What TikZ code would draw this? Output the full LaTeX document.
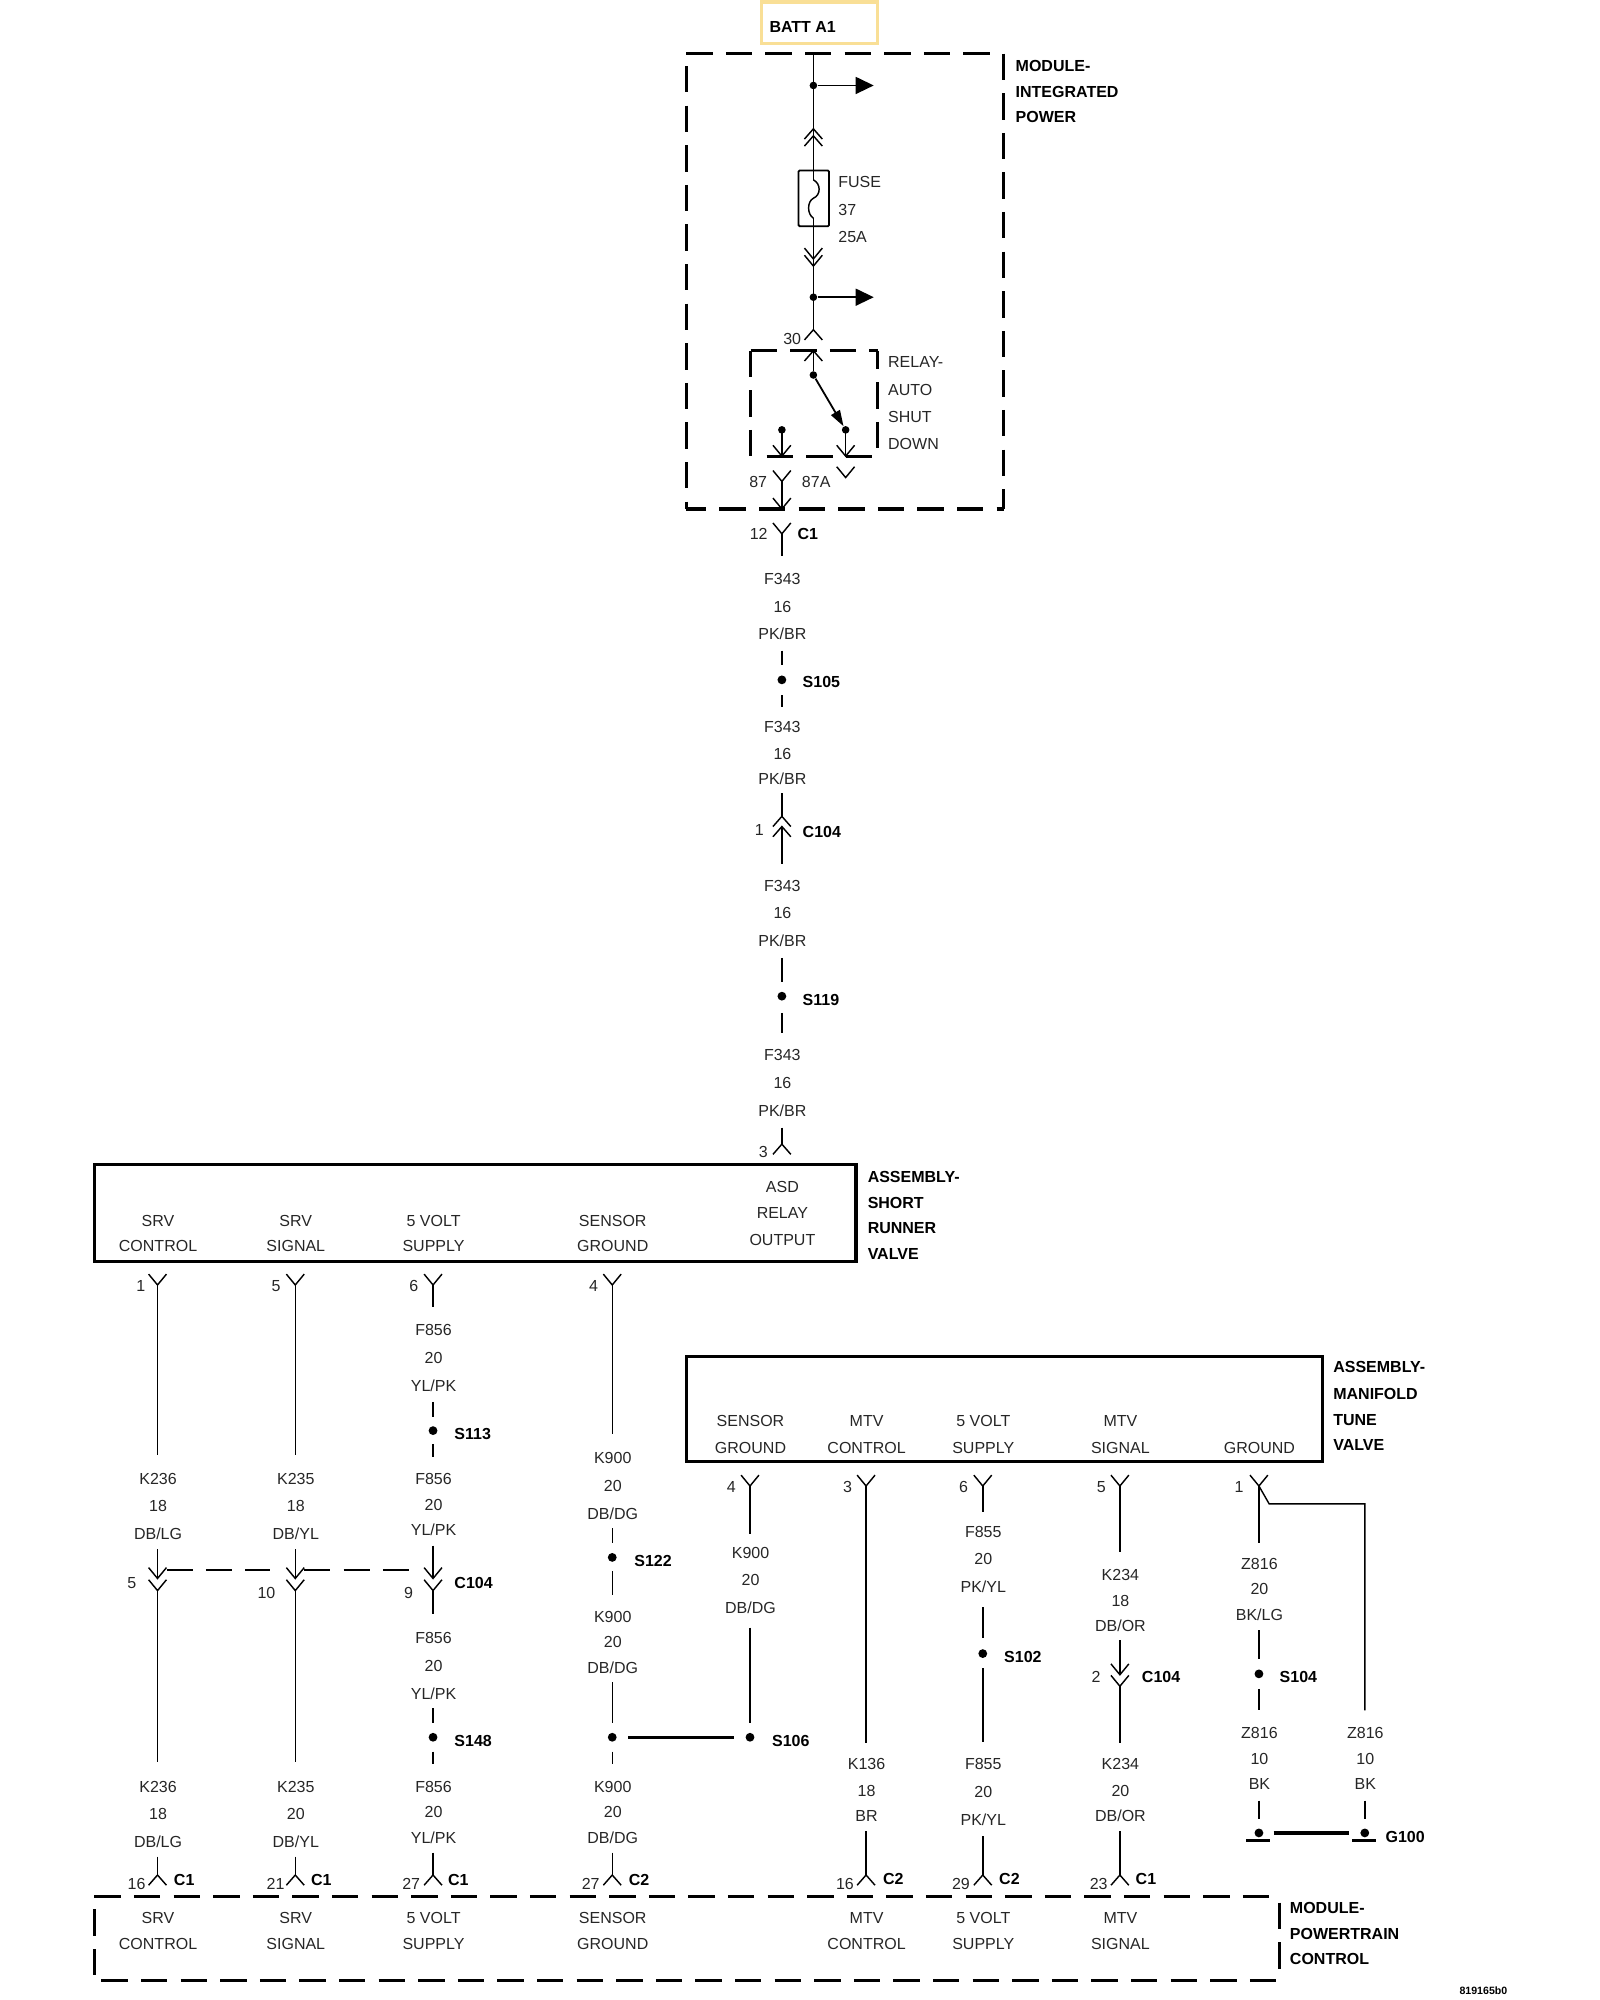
\documentclass[tikz,border=0pt]{standalone}
\usepackage{fontspec}
\setmainfont{Liberation Sans}
\usetikzlibrary{arrows.meta}
\newcounter{tn}
\newcounter{wn}
\tikzset{
  wire/.style={line width=0.72pt,black},
  thick wire/.style={line width=1.6pt,black},
  dashbox/.style={line width=1.6pt,black,dash pattern=on 13.2pt off 6.6pt},
  dashlink/.style={line width=0.72pt,black,dash pattern=on 13pt off 6.6pt},
  solidbox/.style={line width=1.7pt,black},
  battbox/.style={line width=1.6pt,draw=battcol},
  txt/.style={inner sep=0pt,font=\fontsize{8}{9}\selectfont,text=black!85,anchor=base},
  txtl/.style={txt,anchor=base west},
  btxt/.style={inner sep=0pt,font=\fontsize{8}{9}\selectfont\bfseries,text=black,anchor=base},
  btxtl/.style={btxt,anchor=base west},
  dotn/.style={circle,fill=black,inner sep=0pt,minimum size=4.4pt},
  smalldot/.style={circle,fill=black,inner sep=0pt,minimum size=3.8pt},
}
\definecolor{battcol}{HTML}{F9DF96}
% centred text, given by the centre of its capitals
\newcommand\T[3]{\stepcounter{tn}\node[txt] (t\arabic{tn}) at (#1+.4,#2+5.2) {#3};}
\newcommand\TL[3]{\stepcounter{tn}\node[txtl] (t\arabic{tn}) at (#1,#2+5.2) {#3};}
\newcommand\B[3]{\stepcounter{tn}\node[btxt] (t\arabic{tn}) at (#1+.4,#2+5.2) {#3};}
\newcommand\BL[3]{\stepcounter{tn}\node[btxtl] (t\arabic{tn}) at (#1,#2+5.2) {#3};}
% three line wire label
\newcommand\TTT[7]{\T{#1}{#2}{#5}\T{#1}{#3}{#6}\T{#1}{#4}{#7}}
% vertical wire
\newcommand\W[3]{\stepcounter{wn}\coordinate (w\arabic{wn}a) at (#1,#2);\coordinate (w\arabic{wn}b) at (#1,#3);\draw[wire] (w\arabic{wn}a) -- (w\arabic{wn}b);}
% forks: V has its prongs above the apex, A below
\newcommand\FV[2]{\draw[wire] (#1-7,#2-8.5) -- (#1,#2) -- (#1+7,#2-8.5);}
\newcommand\FA[2]{\draw[wire] (#1-7,#2+8) -- (#1,#2) -- (#1+7,#2+8);}
\begin{document}
\begin{tikzpicture}[x=0.63776pt,y=-0.63776pt]
\useasboundingbox (0,0) rectangle (1254.4,1568);

% ---------- BATT
\coordinate (batt1) at (597,1.5);\coordinate (batt2) at (688,34);
\draw[battbox] (batt1) rectangle (batt2);
\BL{603}{20}{BATT A1}

% ---------- module integrated power
\coordinate (m1) at (538,42);\coordinate (m2) at (780,42);
\coordinate (m3) at (787,42);\coordinate (m4) at (787,399);
\coordinate (m5) at (538,399);\coordinate (m6) at (787,399);
\coordinate (m7) at (538,51.8);\coordinate (m8) at (538,399);
\draw[dashbox] (m1) -- (m2);
\draw[dashbox] (m3) -- (m4);
\draw[dashbox,dash phase=3.2pt] (m5) -- (m6);
\draw[dashbox] (m7) -- (m8);
\BL{796}{51}{MODULE-}\BL{796}{71}{INTEGRATED}\BL{796}{91}{POWER}

\def\xm{637.7}
\W{\xm}{42}{141}
\node[smalldot] (d1) at (\xm,67) {};
\coordinate (tip1) at (685,67);
\draw[wire,-{Triangle[length=9pt,width=8.5pt]}] (d1) -- (tip1);
\FA{\xm}{101}\FA{\xm}{106.5}
% fuse
\coordinate (f1) at (626,133.6);\coordinate (f2) at (650,177.3);
\draw[wire,line width=0.9pt,rounded corners=0.6pt] (f1) rectangle (f2);
\coordinate (fa) at (\xm,141);\coordinate (fb) at (\xm,155.4);\coordinate (fc) at (\xm,171);
\draw[wire] (fa) .. controls (\xm+6,144) and (\xm+6,153) .. (fb) .. controls (\xm-5,158) and (\xm-5,168) .. (fc);
\TL{657}{142}{FUSE}\TL{657}{164}{37}\TL{657}{185}{25A}
\W{\xm}{171}{259}
\FV{\xm}{203}\FV{\xm}{208.6}
\node[smalldot] (d2) at (\xm,233) {};
\coordinate (tip2) at (685,233);
\draw[wire,-{Triangle[length=9pt,width=8.5pt]}] (d2) -- (tip2);
\FA{\xm}{258.5}
\T{620.7}{264.6}{30}

% ---------- relay
\coordinate (r1) at (588.5,275);\coordinate (r2) at (688,275);
\coordinate (r3) at (688,275);\coordinate (r4) at (688,351);
\coordinate (r5) at (601,357.6);\coordinate (r6) at (685,357.6);
\coordinate (r7) at (588.5,275);\coordinate (r8) at (588.5,358.5);
\draw[dashbox] (r1) -- (r2);
\draw[dashbox,dash phase=4.1pt] (r3) -- (r4);
\draw[dashbox] (r5) -- (r6);
\draw[dashbox] (r7) -- (r8);
\TL{696}{283}{RELAY-}\TL{696}{304.5}{AUTO}\TL{696}{326}{SHUT}\TL{696}{347}{DOWN}
\FA{\xm}{275}
\node[smalldot] (sw1) at (\xm,294) {};
\node[smalldot] (sw2) at (663,337) {};
\node[smalldot] (sw3) at (613,337) {};
\coordinate (sw0) at (\xm,275);
\draw[wire] (sw0) -- (sw1);
\draw[wire,line width=0.9pt,-{Triangle[length=8pt,width=5pt]}] (sw1) -- (sw2);
\W{663}{337}{357.6}\FV{663}{357.6}
\W{613}{337}{357.6}\FV{613}{357.6}
\FV{663}{374.4}
\FV{613}{377.4}
\W{613}{377.4}{399}\FV{613}{399}
\T{594}{376.6}{87}\T{639.5}{376.6}{87A}

% ---------- F343 run
\FV{613}{418.5}\W{613}{418.5}{436}
\T{594.4}{418}{12}\B{633}{418}{C1}
\TTT{613}{453}{475}{496}{F343}{16}{PK/BR}
\W{613}{510}{521}
\node[dotn] (s105) at (613,533) {};
\BL{629}{534}{S105}
\W{613}{545}{554}
\TTT{613}{569}{590}{610}{F343}{16}{PK/BR}
\W{613}{622}{640}\FA{613}{640}\FA{613}{648}\W{613}{648}{677.5}
\T{595}{650}{1}\BL{629}{651}{C104}
\TTT{613}{694}{715}{737}{F343}{16}{PK/BR}
\W{613}{751}{770}
\node[dotn] (s119) at (613,781) {};
\BL{629}{783}{S119}
\W{613}{794}{810}
\TTT{613}{826}{848}{870}{F343}{16}{PK/BR}
\W{613}{884}{897}\FA{613}{897}
\T{598}{902}{3}

% ---------- assembly short runner valve
\coordinate (a1) at (74,913);\coordinate (a2) at (671,989);
\draw[solidbox] (a1) rectangle (a2);
\T{123.5}{956}{SRV}\T{123.5}{976}{CONTROL}
\T{231.5}{956}{SRV}\T{231.5}{976}{SIGNAL}
\T{339.5}{956}{5 VOLT}\T{339.5}{976}{SUPPLY}
\T{480}{956}{SENSOR}\T{480}{976}{GROUND}
\T{613}{930}{ASD}\T{613}{950}{RELAY}\T{613}{971}{OUTPUT}
\BL{680}{922}{ASSEMBLY-}\BL{680}{942}{SHORT}\BL{680}{962}{RUNNER}\BL{680}{982}{VALVE}

% column SRV control
\FV{123.5}{1007.4}\T{110}{1007}{1}
\W{123.5}{1007.4}{1141}
\TTT{123.5}{1159}{1180}{1202}{K236}{18}{DB/LG}
\W{123.5}{1214.7}{1237.5}\FV{123.5}{1237.5}
\FV{123.5}{1247}\W{123.5}{1247}{1381}
\T{103}{1240}{5}
\TTT{123.5}{1400}{1421}{1443}{K236}{18}{DB/LG}
\W{123.5}{1455.6}{1470}\FA{123.5}{1470}
\T{106.7}{1476}{16}\B{144}{1473}{C1}

% column SRV signal
\FV{231.5}{1007.4}\T{216}{1007}{5}
\W{231.5}{1007.4}{1141}
\TTT{231.5}{1159}{1180}{1202}{K235}{18}{DB/YL}
\W{231.5}{1214.7}{1237.5}\FV{231.5}{1237.5}
\FV{231.5}{1247}\W{231.5}{1247}{1381}
\T{208.5}{1248}{10}
\TTT{231.5}{1400}{1421}{1443}{K235}{20}{DB/YL}
\W{231.5}{1455.6}{1470}\FA{231.5}{1470}
\T{215.6}{1476}{21}\B{251.5}{1473}{C1}

% column 5 volt
\FV{339.5}{1007.4}\T{324}{1007}{6}
\W{339.5}{1007.4}{1025}
\TTT{339.5}{1042}{1064}{1086}{F856}{20}{YL/PK}
\W{339.5}{1099}{1110.7}
\node[dotn] (s113) at (339.5,1121.6) {};
\BL{356}{1123.7}{S113}
\W{339.5}{1132}{1142.6}
\TTT{339.5}{1159}{1179}{1199}{F856}{20}{YL/PK}
\W{339.5}{1211.8}{1237.5}\FV{339.5}{1237.5}
\FV{339.5}{1247}\W{339.5}{1247}{1265.6}
\T{320}{1248}{9}\BL{356}{1240}{C104}
\TTT{339.5}{1283}{1305}{1327}{F856}{20}{YL/PK}
\W{339.5}{1339.3}{1350.6}
\node[dotn] (s148) at (339.5,1362) {};
\BL{356}{1364}{S148}
\W{339.5}{1373.3}{1383}
\TTT{339.5}{1400}{1419.6}{1440}{F856}{20}{YL/PK}
\W{339.5}{1452.5}{1470}\FA{339.5}{1470}
\T{322}{1476}{27}\B{359}{1473}{C1}

% dashed link of connector C104
\coordinate (lk1) at (130.7,1231);\coordinate (lk2) at (212,1231);
\coordinate (lk3) at (238.7,1231);\coordinate (lk4) at (320.7,1231);
\draw[dashlink] (lk1) -- (lk2);
\draw[dashlink] (lk3) -- (lk4);

% column sensor ground
\FV{480}{1007.4}\T{465}{1007}{4}
\W{480}{1007.4}{1124.3}
\TTT{480}{1142}{1164}{1186}{K900}{20}{DB/DG}
\W{480}{1198}{1210}
\node[dotn] (s122) at (480,1221) {};
\BL{497}{1223}{S122}
\W{480}{1232}{1250.5}
\TTT{480}{1266.6}{1286.8}{1307}{K900}{20}{DB/DG}
\W{480}{1319}{1351}
\node[dotn] (s106a) at (480,1362) {};
\W{480}{1373.3}{1383}
\TTT{480}{1400}{1419.6}{1440}{K900}{20}{DB/DG}
\W{480}{1452.5}{1470}\FA{480}{1470}
\T{462.7}{1476}{27}\B{500.7}{1473}{C2}

% ---------- assembly manifold tune valve
\coordinate (b1) at (538,1063.5);\coordinate (b2) at (1037,1146);
\draw[solidbox] (b1) rectangle (b2);
\T{588}{1113}{SENSOR}\T{588}{1134}{GROUND}
\T{679}{1113}{MTV}\T{679}{1134}{CONTROL}
\T{770.5}{1113}{5 VOLT}\T{770.5}{1134}{SUPPLY}
\T{878}{1113}{MTV}\T{878}{1134}{SIGNAL}
\T{987}{1134}{GROUND}
\BL{1045}{1071}{ASSEMBLY-}\BL{1045}{1092}{MANIFOLD}\BL{1045}{1112}{TUNE}\BL{1045}{1132}{VALVE}

% column 588
\FV{588}{1165}\T{573}{1165}{4}
\W{588}{1165}{1203}
\TTT{588}{1217}{1238}{1260}{K900}{20}{DB/DG}
\W{588}{1276}{1351}
\node[dotn] (s106b) at (588,1362) {};
\draw[thick wire,shorten <=5.6pt,shorten >=5.6pt] (s106a) -- (s106b);
\BL{605}{1364}{S106}

% column 679
\FV{679}{1165}\T{664}{1165}{3}
\W{679}{1165}{1366.6}
\TTT{679}{1382}{1403}{1423}{K136}{18}{BR}
\W{679}{1435.6}{1470}\FA{679}{1470}
\T{662}{1476}{16}\B{700}{1472.5}{C2}

% column 770.5
\FV{770.5}{1165}\T{755}{1165}{6}
\W{770.5}{1165}{1185}
\TTT{770.5}{1200}{1221}{1243}{F855}{20}{PK/YL}
\W{770.5}{1260}{1284}
\node[dotn] (s102) at (770.5,1296.4) {};
\BL{787}{1298}{S102}
\W{770.5}{1308}{1365.5}
\TTT{770.5}{1382}{1404}{1426}{F855}{20}{PK/YL}
\W{770.5}{1439.6}{1470}\FA{770.5}{1470}
\T{753}{1476}{29}\B{791}{1472.5}{C2}

% column 878
\FV{878}{1165}\T{863}{1165}{5}
\W{878}{1165}{1216.7}
\TTT{878}{1234}{1254}{1274}{K234}{18}{DB/OR}
\W{878}{1286}{1313}\FV{878}{1313}
\FV{878}{1322}\W{878}{1322}{1366.6}
\T{859}{1314}{2}\BL{895}{1314}{C104}
\TTT{878}{1382}{1403}{1423}{K234}{20}{DB/OR}
\W{878}{1435.6}{1470}\FA{878}{1470}
\T{861}{1476}{23}\B{898}{1472.5}{C1}

% column 987 and branch
\FV{987}{1165}\T{971}{1165}{1}
\W{987}{1165}{1209.5}
\TTT{987}{1225}{1245}{1265}{Z816}{20}{BK/LG}
\W{987}{1278}{1300.6}
\node[dotn] (s104) at (987,1312.3) {};
\BL{1003}{1314}{S104}
\W{987}{1324}{1341}
\TTT{987}{1358}{1378}{1398}{Z816}{10}{BK}
\W{987}{1411.7}{1425.7}
\node[dotn] (g1) at (987,1437) {};
\coordinate (ba) at (987,1165);\coordinate (bb) at (995,1179);\coordinate (bc) at (1070,1179);\coordinate (bd) at (1070,1341);
\draw[wire] (ba) -- (bb) -- (bc) -- (bd);
\TTT{1070}{1358}{1378}{1398}{Z816}{10}{BK}
\W{1070}{1411.7}{1425.7}
\node[dotn] (g2) at (1070,1437) {};
\draw[thick wire,shorten <=5pt,shorten >=5.6pt] (g1) -- (g2);
\coordinate (g1a) at (977,1443);\coordinate (g1b) at (996,1443);
\coordinate (g2a) at (1060,1443);\coordinate (g2b) at (1079,1443);
\draw[thick wire] (g1a) -- (g1b);
\draw[thick wire] (g2a) -- (g2b);
\BL{1086}{1439}{G100}

% ---------- module powertrain control
\coordinate (p1) at (74,1487);\coordinate (p2) at (997,1487);
\coordinate (p3) at (1003,1491.7);\coordinate (p4) at (1003,1545);
\coordinate (p5) at (79.5,1553);\coordinate (p6) at (1003,1553);
\coordinate (p7) at (74,1497);\coordinate (p8) at (74,1549);
\draw[dashbox] (p1) -- (p2);
\draw[dashbox] (p3) -- (p4);
\draw[dashbox] (p5) -- (p6);
\draw[dashbox] (p7) -- (p8);
\T{123.5}{1503}{SRV}\T{123.5}{1523}{CONTROL}
\T{231.5}{1503}{SRV}\T{231.5}{1523}{SIGNAL}
\T{339.5}{1503}{5 VOLT}\T{339.5}{1523}{SUPPLY}
\T{480}{1503}{SENSOR}\T{480}{1523}{GROUND}
\T{679}{1503}{MTV}\T{679}{1523}{CONTROL}
\T{770.5}{1503}{5 VOLT}\T{770.5}{1523}{SUPPLY}
\T{878}{1503}{MTV}\T{878}{1523}{SIGNAL}
\BL{1011}{1495}{MODULE-}\BL{1011}{1515}{POWERTRAIN}\BL{1011}{1535}{CONTROL}

\node[btxt,font=\fontsize{5.3}{6}\selectfont\bfseries] (code) at (1163,1564) {819165b0};
\end{tikzpicture}
\end{document}
